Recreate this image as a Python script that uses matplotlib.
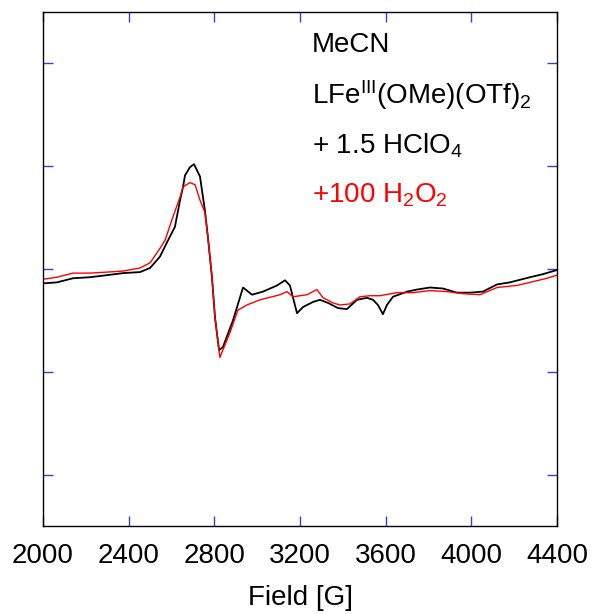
import numpy as np
import matplotlib
matplotlib.use("Agg")
import matplotlib.pyplot as plt

plt.rcParams['font.family'] = ['Liberation Sans', 'DejaVu Sans']
plt.rcParams['mathtext.fontset'] = 'custom'
plt.rcParams['mathtext.rm'] = 'Liberation Sans'
plt.rcParams['mathtext.it'] = 'Liberation Sans:italic'

# EPR spectra (field in G, intensity in arbitrary units)
field_black = [2000, 2065, 2140, 2219, 2299, 2374, 2453, 2500, 2546, 2584, 2616, 2640,
               2654, 2663, 2686, 2705, 2733, 2756, 2770, 2789, 2803, 2822, 2840, 2887,
               2934, 2976, 3027, 3093, 3130, 3153, 3186, 3214, 3261, 3293, 3331, 3377,
               3419, 3466, 3513, 3541, 3564, 3587, 3606, 3634, 3700, 3746, 3807, 3868,
               3933, 3994, 4054, 4120, 4180, 4274, 4335, 4367, 4400]
int_black = [-0.14, -0.13, -0.09, -0.08, -0.06, -0.04, -0.03, 0.01, 0.12, 0.28, 0.41, 0.67,
             0.80, 0.91, 0.99, 1.02, 0.90, 0.57, 0.31, -0.08, -0.47, -0.79, -0.76, -0.50,
             -0.18, -0.25, -0.22, -0.16, -0.11, -0.16, -0.43, -0.37, -0.32, -0.30, -0.33, -0.38,
             -0.39, -0.30, -0.28, -0.30, -0.35, -0.44, -0.35, -0.27, -0.22, -0.20, -0.18, -0.19,
             -0.23, -0.23, -0.22, -0.15, -0.13, -0.08, -0.05, -0.03, -0.01]

field_red = [2000, 2065, 2140, 2219, 2299, 2374, 2453, 2500, 2546, 2570, 2607, 2640,
             2654, 2686, 2710, 2733, 2756, 2770, 2789, 2803, 2826, 2873, 2910, 2952,
             3013, 3107, 3139, 3167, 3233, 3279, 3308, 3354, 3387, 3433, 3480, 3527,
             3573, 3653, 3728, 3807, 3886, 3961, 4040, 4120, 4213, 4274, 4353, 4400]
int_red = [-0.10, -0.08, -0.04, -0.04, -0.03, -0.02, 0.01, 0.06, 0.20, 0.28, 0.51, 0.70,
           0.80, 0.84, 0.82, 0.67, 0.55, 0.31, -0.08, -0.47, -0.86, -0.62, -0.40, -0.35,
           -0.30, -0.25, -0.22, -0.27, -0.25, -0.20, -0.28, -0.33, -0.35, -0.34, -0.27, -0.26,
           -0.26, -0.23, -0.23, -0.21, -0.22, -0.24, -0.25, -0.18, -0.16, -0.13, -0.09, -0.06]

x_ticks = [2000, 2400, 2800, 3200, 3600, 4000, 4400]
y_ticks = [-2, -1, 0, 1, 2]

fig = plt.figure(figsize=(5.92, 6.14), dpi=100)
ax = fig.add_axes([43/592, 88/614, 514/592, 514/614])

ax.plot(field_black, int_black, color='black', lw=1.3)
ax.plot(field_red, int_red, color='red', lw=1.0)

ax.set_xlim(2000, 4400)
ax.set_ylim(-2.5, 2.5)
ax.set_xticks(x_ticks)
ax.set_yticks(y_ticks)
ax.set_yticklabels([])
ax.tick_params(direction='in', length=7, width=1, color='#3344cc',
               top=True, right=True, labelsize=20, pad=12)
ax.set_xlabel('Field [G]', fontsize=20, labelpad=12)

for sp in ax.spines.values():
    sp.set_linewidth(1.0)

tx = (312 - 43) / 514
fs = 20
ax.text(tx, 0.935, 'MeCN', transform=ax.transAxes, fontsize=fs, va='center')
ax.text(tx, 0.838, r'LFe$^{\mathrm{III}}$(OMe)(OTf)$_{\mathrm{2}}$', transform=ax.transAxes,
        fontsize=fs, va='center')
ax.text(tx, 0.740, r'+ 1.5 HClO$_{\mathrm{4}}$', transform=ax.transAxes, fontsize=fs, va='center')
ax.text(tx, 0.643, r'+100 H$_{\mathrm{2}}$O$_{\mathrm{2}}$', transform=ax.transAxes,
        fontsize=fs, va='center', color='red')

fig.savefig('out.png', dpi=100)
